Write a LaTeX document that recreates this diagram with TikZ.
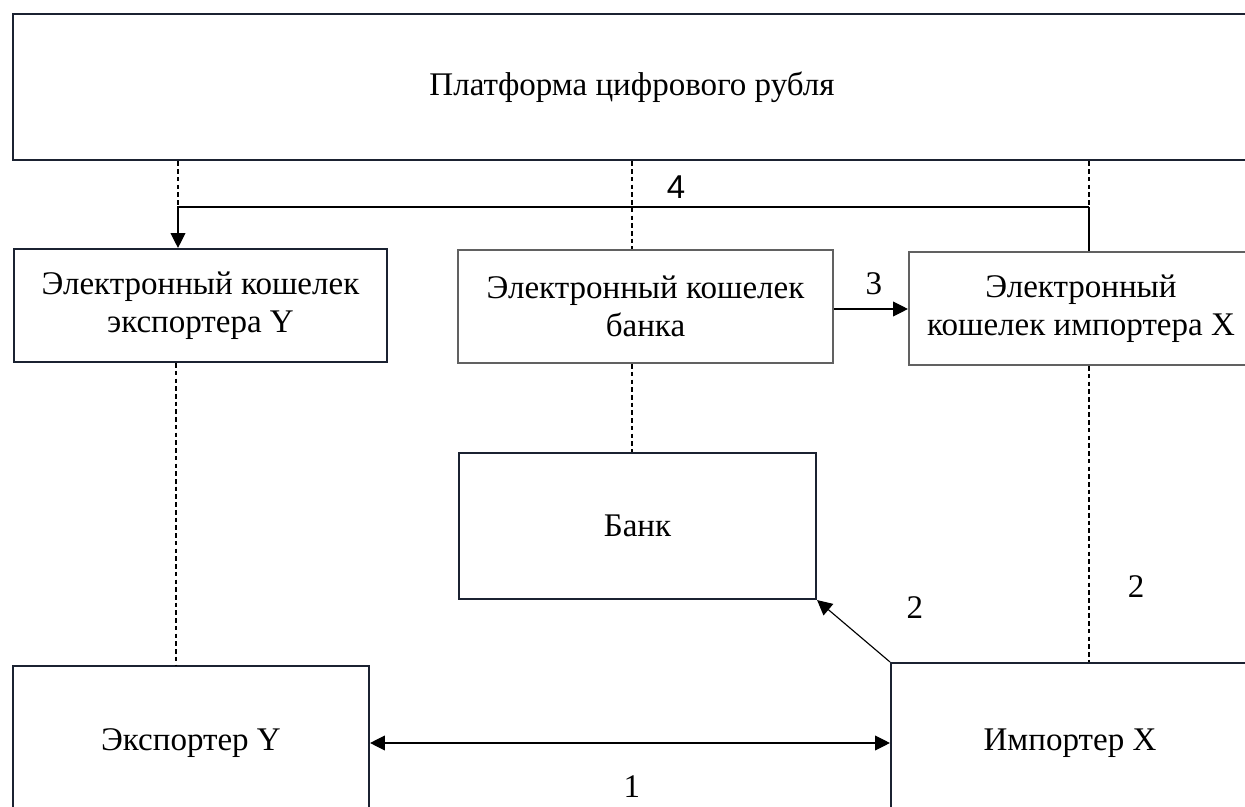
\documentclass[tikz,border=0pt]{standalone}
\usepackage{fontspec}
\setmainfont{Liberation Serif}
\newfontfamily\sansnum{Liberation Sans}
\usetikzlibrary{arrows.meta}

\begin{document}
\begin{tikzpicture}[x=0.02cm,y=-0.02cm,
		box/.style={draw=boxcol, line width=1.2pt, inner sep=0pt, align=center},
		greybox/.style={box, draw=black!62},
		conn/.style={line width=0.65pt, black},
		dashline/.style={line width=0.6pt, dash pattern=on 2.6pt off 1.8pt},
		tip/.style={-{Triangle[length=8.5pt,width=8.5pt]}},
		num/.style={inner sep=0pt}]
			\definecolor{boxcol}{HTML}{1B2231}
			\useasboundingbox (0,0) rectangle (1245,807);
			\fontsize{18.8}{21.6}\selectfont
			\node[box, line width=1.6pt, minimum width=1238*0.02cm, minimum height=146*0.02cm] (plat) at (632,87) {Платформа цифрового рубля};
			\node[box, minimum width=373*0.02cm, minimum height=113*0.02cm] (wY) at (200.5,305.5) {Электронный кошелек\\экспортера Y};
			\node[greybox, minimum width=375*0.02cm, minimum height=113*0.02cm] (wB) at (645.5,306.5) {Электронный кошелек\\банка};
			\node[greybox, minimum width=344*0.02cm, minimum height=113*0.02cm] (wX) at (1081,308.5) {Электронный\\кошелек импортера X};
			\node[box, minimum width=357*0.02cm, minimum height=146*0.02cm] (bank) at (637.5,526) {Банк};
			\node[box, minimum width=356*0.02cm, minimum height=154*0.02cm] (expY) at (191,743) {Экспортер Y};
			\node[box, minimum width=358*0.02cm, minimum height=160*0.02cm] (impX) at (1070,743) {Импортер X};
			\coordinate (jL) at (178,207);
			\coordinate (jR) at (1089,207);
			\coordinate (mid) at (632,400);
			% dashed links
			\draw[dashline] (plat.south -| jL) -- (jL);
			\draw[dashline] (plat.south -| jR) -- (jR);
			\draw[dashline] (plat.south -| mid) -- (wB.north -| mid);
			\draw[dashline] (wB.south -| mid) -- (bank.north -| mid);
			\draw[dashline] (wY.south -| 176,0) -- (expY.north -| 176,0);
			\draw[dashline] (wX.south -| jR) -- (impX.north -| jR);
			% flows
			\draw[conn, tip] (jR) -- (jL) -- (wY.north -| jL);
			\draw[conn] (jR) -- (wX.north -| jR);
			\draw[conn, tip] (wB.east |- 0,309) -- (wX.west |- 0,309);
			\draw[conn, tip] (impX.north west) -- (bank.south east);
			\draw[conn, {Triangle[length=8.5pt,width=8.5pt]}-{Triangle[length=8.5pt,width=8.5pt]}] (expY.east) -- (impX.west);
			\node[num] (n1) at (632,787) {1};
			\node[num] (n2a) at (915,608) {2};
			\node[num] (n2b) at (1136,587) {2};
			\node[num] (n3) at (874,284) {3};
			\node[num] (n4) at (676,187) {\sansnum 4};
		\end{tikzpicture}
\end{document}
